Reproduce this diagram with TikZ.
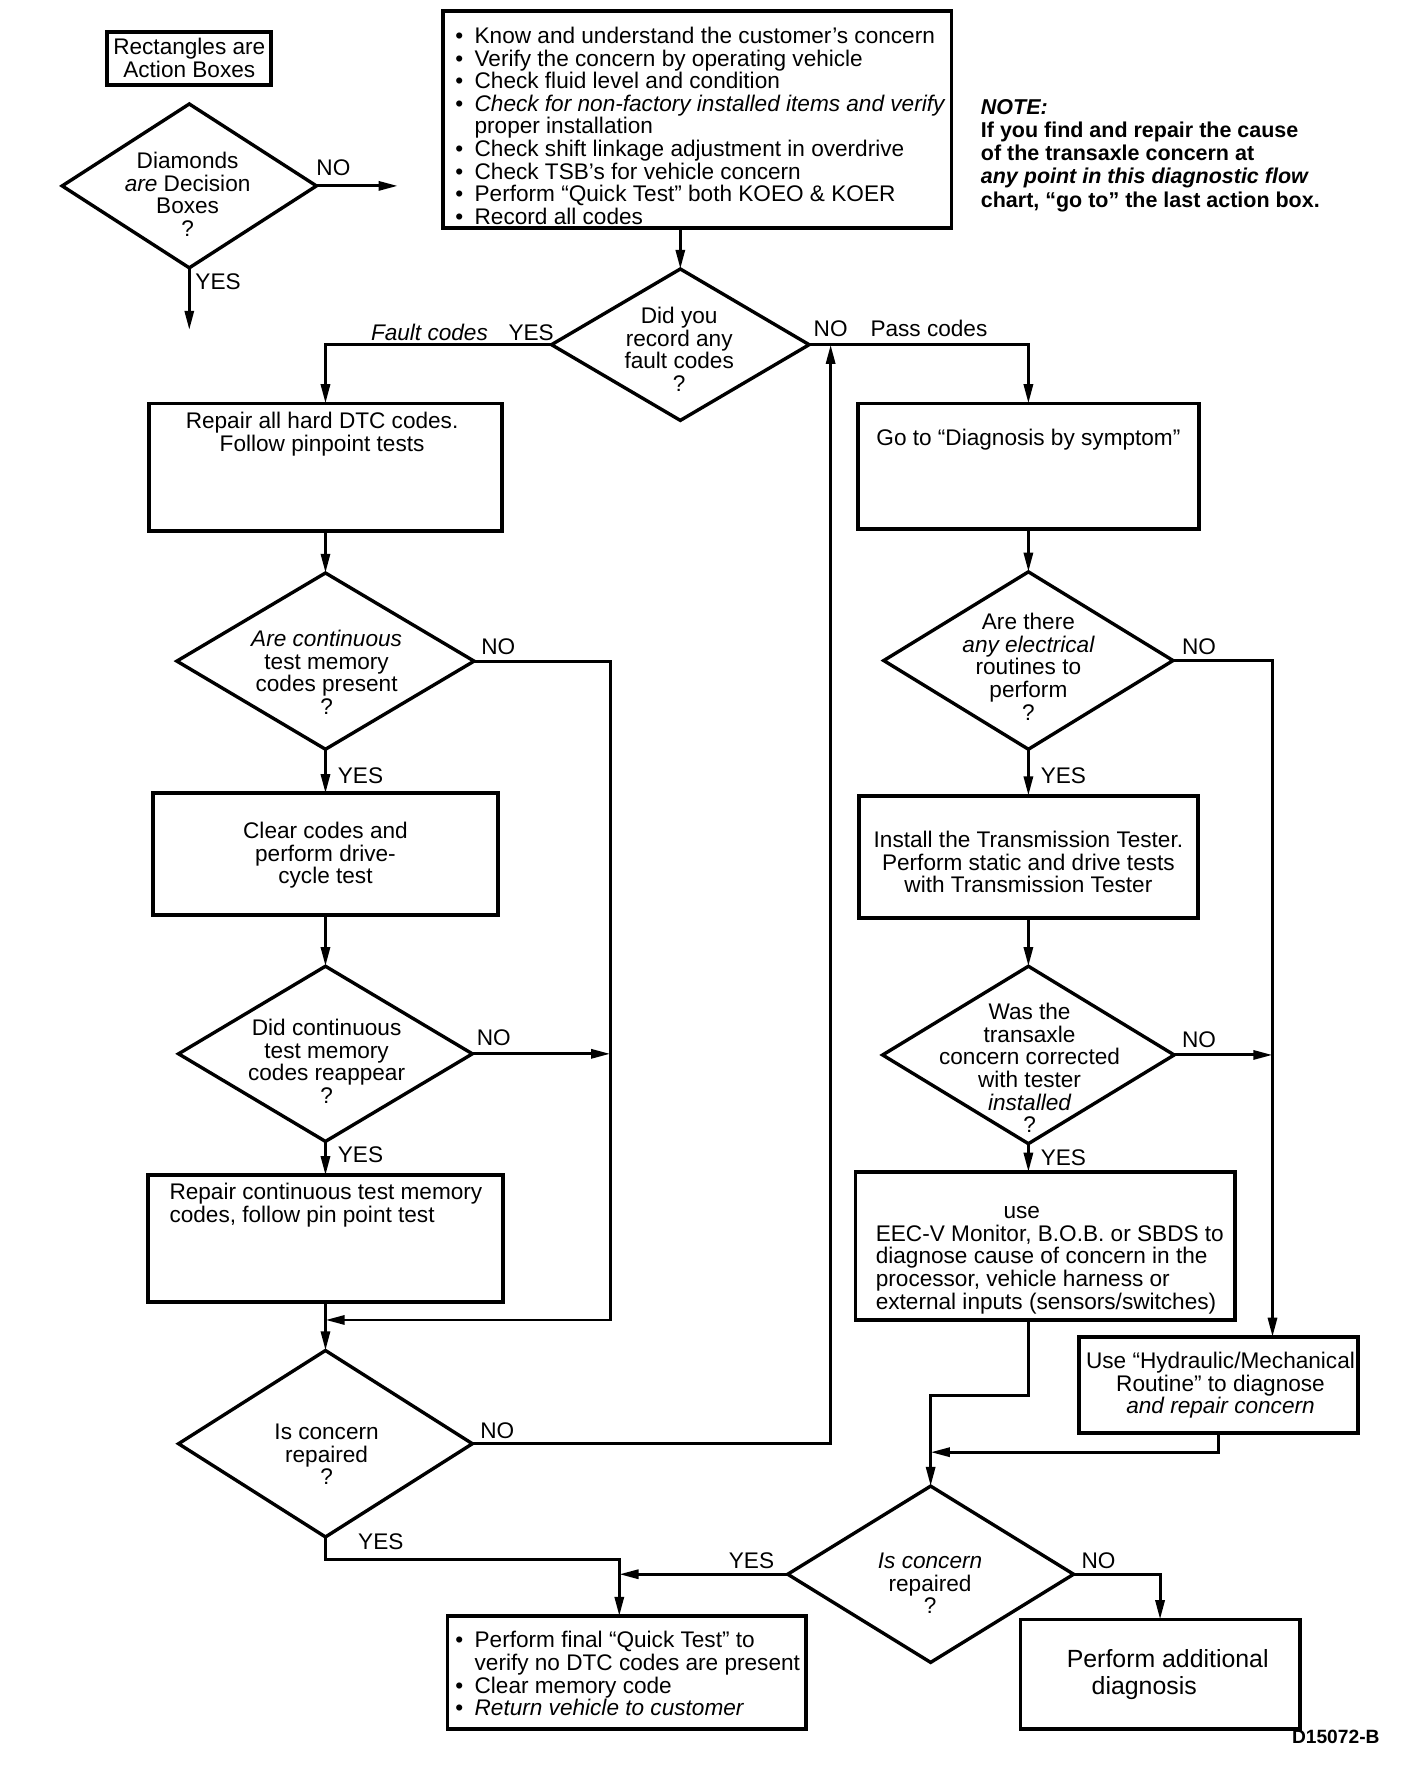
\documentclass[tikz,border=0pt]{standalone}
\usepackage{fontspec}
\setmainfont{Liberation Sans}
\usetikzlibrary{shapes.geometric,arrows.meta,calc}
\newcommand{\bul}{\makebox[17pt][l]{\textbullet}}
\newcommand{\ind}{\hspace*{17pt}}
\begin{document}
\begin{tikzpicture}[x=1pt,y=-1pt,
  every node/.style={font=\fontsize{20}{20}\selectfont, inner sep=0pt, outer sep=0pt},
  box/.style={draw, line width=3.4pt, rectangle},
  dia/.style={draw, line width=3pt, diamond, aspect=1.6},
  arr/.style={line width=2.6pt, -{Triangle[length=17pt,width=8pt]}},
  txt/.style={align=center},
  note/.style={align=left, font=\fontsize{19}{20.5}\selectfont\bfseries},
]
\fill[white] (0,0) rectangle (1260,1568);
\useasboundingbox (0,0) rectangle (1260,1568);

% ---------- legend ----------
\node[box, minimum width=145pt, minimum height=47pt, txt] (leg) at (167.5,51.5) {Rectangles are\\Action Boxes};
\node[dia, minimum width=225pt, minimum height=145pt] (ld) at (167.5,164.5) {};
\node[txt] (ldt) at (166,172) {Diamonds\\{\itshape are} Decision\\Boxes\\?};
\coordinate (ldno) at (352,164.5);
\coordinate (ldyes) at (167.5,292);
\draw[arr] (ld.east) -- (ldno);
\draw[arr] (ld.south) -- (ldyes);
\node (ldnol) at (295,148) {NO};
\node (ldyesl) at (193,249) {YES};

% ---------- top box ----------
\node[box, minimum width=450pt, minimum height=192pt] (top) at (617,106) {};
\node[align=left, anchor=north west] (topt) at (403,24) {%
\bul Know and understand the customer's concern\\
\bul Verify the concern by operating vehicle\\
\bul Check fluid level and condition\\
\bul {\itshape Check for non-factory installed items and verify}\\
\ind proper installation\\
\bul Check shift linkage adjustment in overdrive\\
\bul Check TSB's for vehicle concern\\
\bul Perform “Quick Test” both KOEO \& KOER\\
\bul Record all codes};

\node[note, anchor=north west] (note) at (868,88) {{\itshape NOTE:}\\If you find and repair the cause\\of the transaxle concern at\\{\itshape any point in this diagnostic flow}\\chart, “go to” the last action box.};

% ---------- decision 1 ----------
\node[dia, minimum width=228pt, minimum height=134pt] (d1) at (602,305) {};
\node[txt] (d1t) at (601,309) {Did you\\record any\\fault codes\\?};
\draw[arr] (d1.north |- top.south) -- (d1.north);

% ---------- left column ----------
\node[box, minimum width=312pt, minimum height=113pt] (b1) at (288,413.5) {};
\node[txt, anchor=north] (b1t) at (285,365) {Repair all hard DTC codes.\\Follow pinpoint tests};
\draw[arr] (d1.west) -| (b1.north);
\node (l1) at (380,294) {\itshape Fault codes};
\node (l2) at (470,294) {YES};

\node[dia, minimum width=263pt, minimum height=156pt] (d2) at (288,585) {};
\node[txt] (d2t) at (289,595) {{\itshape Are continuous}\\test memory\\codes present\\?};
\draw[arr] (b1.south) -- (d2.north);
\node (l5) at (441,572) {NO};
\node (l6) at (319,686) {YES};

\node[box, minimum width=305pt, minimum height=108pt] (b2) at (288,756) {};
\node[txt] (b2t) at (288,757) {Clear codes and\\perform drive-\\cycle test};
\draw[arr] (d2.south) -- (b2.north);

\node[dia, minimum width=260pt, minimum height=155pt] (d3) at (288,932.5) {};
\node[txt] (d3t) at (289,939) {Did continuous\\test memory\\codes reappear\\?};
\draw[arr] (b2.south) -- (d3.north);
\node (l7) at (437,918) {NO};
\node (l8) at (319,1022) {YES};

\node[box, minimum width=314pt, minimum height=112pt] (b3) at (288,1096) {};
\node[align=left, anchor=north west] (b3t) at (150,1047) {Repair continuous test memory\\codes, follow pin point test};
\draw[arr] (d3.south) -- (b3.north);

\coordinate (r1) at (540,1168);
\coordinate (m1) at (288,1168);
\draw[arr] (d2.east) -| (r1) -- (m1);
\draw[arr] (d3.east) -- (d3.east -| r1);

\node[dia, minimum width=260pt, minimum height=165pt] (d4) at (288,1277.5) {};
\node[txt] (d4t) at (289,1287) {Is concern\\repaired\\?};
\draw[arr] (b3.south) -- (d4.north);
\node (l9) at (440,1266) {NO};
\node (l10) at (337,1364) {YES};

\path (d1.east) -- ++(19,0) coordinate (up);
\draw[arr] (d4.east) -| (up);
\node (l3) at (735,291) {NO};
\node (l4) at (822,291) {Pass codes};

% ---------- right column ----------
\node[box, minimum width=302pt, minimum height=111pt] (b4) at (910,412.5) {};
\node[txt] (b4t) at (910,389) {Go to “Diagnosis by symptom”};
\draw[arr] (d1.east) -| (b4.north);

\node[dia, minimum width=256pt, minimum height=157pt] (d5) at (910,584.5) {};
\node[txt] (d5t) at (910,590) {Are there\\{\itshape any electrical}\\routines to\\perform\\?};
\draw[arr] (b4.south) -- (d5.north);
\node (l11) at (1061,572) {NO};
\node (l12) at (941,686) {YES};

\node[box, minimum width=300pt, minimum height=108pt] (b5) at (910,758) {};
\node[txt] (b5t) at (910,763) {Install the Transmission Tester.\\Perform static and drive tests\\with Transmission Tester};
\draw[arr] (d5.south) -- (b5.north);

\node[dia, minimum width=258pt, minimum height=157pt] (d6) at (910,933.5) {};
\node[txt] (d6t) at (911,945) {Was the\\transaxle\\concern corrected\\with tester\\{\itshape installed}\\?};
\draw[arr] (b5.south) -- (d6.north);
\node (l13) at (1061,920) {NO};
\node (l14) at (941,1024) {YES};

\node[box, minimum width=336pt, minimum height=131pt] (b6) at (925,1102.5) {};
\node[align=left, anchor=west] (b6t) at (775,1115) {\hspace*{113pt}use\\EEC-V Monitor, B.O.B. or SBDS to\\diagnose cause of concern in the\\processor, vehicle harness or\\external inputs (sensors/switches)};
\draw[arr] (d6.south) -- (d6.south |- b6.north);

\node[box, minimum width=247pt, minimum height=85pt] (b7) at (1078.5,1225.5) {};
\node[txt] (b7t) at (1080,1226) {Use “Hydraulic/Mechanical\\Routine” to diagnose\\{\itshape and repair concern}};
\coordinate (nv) at (1126,600);
\draw[arr] (d5.east) -| (b7.north -| nv);
\draw[arr] (d6.east) -- (d6.east -| nv);

% ---------- bottom ----------
\node[dia, minimum width=253pt, minimum height=156pt] (d7) at (823.5,1393) {};
\node[txt] (d7t) at (823,1401) {{\itshape Is concern}\\repaired\\?};
\draw[arr] (b6.south -| d6.south) -- ++(0,67) -| (d7.north);
\coordinate (m3) at (823.5,1285);
\draw[arr] (b7.south) -- ++(0,17) -- (m3);
\node (l15) at (665,1381) {YES};
\node (l16) at (972,1381) {NO};

\node[box, minimum width=317pt, minimum height=100pt] (b9) at (554.5,1480) {};
\node[align=left, anchor=west] (b9t) at (403,1481) {\bul Perform final “Quick Test” to\\\ind verify no DTC codes are present\\\bul Clear memory code\\\bul {\itshape Return vehicle to customer}};
\coordinate (m2) at (548,1393);
\draw[arr] (d4.south) -- ++(0,20) -| (b9.north -| m2);
\draw[arr] (d7.west) -- (m2);

\node[box, minimum width=247pt, minimum height=97pt] (b8) at (1026.5,1481.5) {};
\node[align=left, anchor=west, font=\fontsize{22}{24}\selectfont] (b8t) at (944,1482) {Perform additional\\\hspace*{22pt}diagnosis};
\draw[arr] (d7.east) -| (b8.north);

\node[font=\fontsize{17}{17}\selectfont\bfseries] (fig) at (1182,1537) {D15072-B};
\end{tikzpicture}
\end{document}
